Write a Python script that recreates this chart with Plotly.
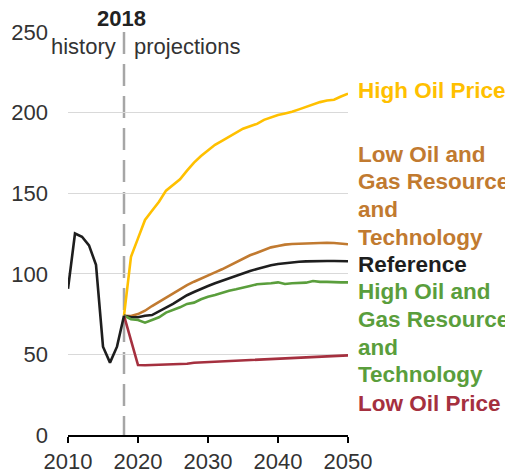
import plotly.graph_objects as go

# ---- data ----
hist_years = list(range(2010, 2019))
hist_values = [90.7, 125.0, 123.0, 117.6, 105.6, 54.8, 44.9, 54.8, 74.0]

proj_years = list(range(2018, 2051))
high_oil_price = [74.0, 110.6, 122.0, 133.4, 139.1, 144.7, 151.6, 155.1, 158.6, 164.0,
                  169.0, 173.1, 176.8, 180.0, 182.5, 185.0, 187.0, 190.0, 191.5, 193.0,
                  195.5, 197.0, 198.5, 199.5, 200.5, 202.0, 203.5, 205.0, 206.5, 207.5,
                  208.0, 210.0, 211.8]
low_oil_gas = [74.0, 73.8, 75.0, 77.1, 80.0, 82.7, 85.4, 87.9, 90.4, 93.0,
               95.1, 97.2, 99.1, 100.9, 102.8, 105.0, 107.1, 109.6, 111.5, 113.1,
               114.8, 116.4, 117.2, 118.1, 118.5, 118.7, 118.9, 119.1, 119.3, 119.3,
               119.1, 118.7, 118.3]
reference = [74.0, 73.0, 73.0, 74.0, 74.4, 76.5, 79.0, 81.3, 84.2, 86.7,
             88.7, 90.8, 92.4, 94.1, 95.7, 97.2, 98.6, 100.3, 101.7, 103.0,
             104.2, 105.3, 106.1, 106.7, 107.1, 107.5, 107.7, 107.9, 107.9, 107.9,
             107.9, 107.9, 107.8]
high_oil_gas = [74.0, 71.8, 71.3, 69.7, 71.3, 73.0, 75.9, 77.5, 79.2, 81.3,
                82.1, 84.2, 85.8, 86.8, 88.3, 89.5, 90.4, 91.2, 92.4, 93.5,
                93.7, 94.1, 94.7, 93.7, 94.1, 94.3, 94.5, 95.5, 95.0, 95.0,
                94.7, 94.7, 94.7]
low_oil_price = [74.0, 59.0, 43.4, 43.3, 43.4, 43.5, 43.7, 43.8, 44.0, 44.2,
                 44.8, 45.0, 45.2, 45.6, 46.0, 46.1, 46.3, 46.5, 46.7, 47.0,
                 47.2, 47.4, 47.6, 47.7, 47.8, 47.9, 48.1, 48.4, 48.6, 48.8,
                 49.0, 49.2, 49.4]

series_names = ["High Oil Price", "Low Oil and Gas Resource and Technology",
                "Reference", "High Oil and Gas Resource and Technology",
                "Low Oil Price"]
label_lines = [["High Oil Price"],
               ["Low Oil and", "Gas Resource", "and", "Technology"],
               ["Reference"],
               ["High Oil and", "Gas Resource", "and", "Technology"],
               ["Low Oil Price"]]
series_values = [high_oil_price, low_oil_gas, reference, high_oil_gas, low_oil_price]
series_colors = ["#FFC000", "#C17A30", "#1E1E1E", "#5A9E3C", "#A5303F"]
label_y = [214.0, 148.5, 105.5, 63.1, 19.3]
LINE_GAP = 27.7

y_ticks = [0, 50, 100, 150, 200, 250]
x_ticks = [2010, 2020, 2030, 2040, 2050]

FONT = "Liberation Sans, Arial, sans-serif"

fig = go.Figure()

for name, vals, col in zip(series_names, series_values, series_colors):
    fig.add_trace(go.Scatter(x=proj_years, y=vals, mode="lines",
                             line=dict(color=col, width=2.6), name=name,
                             showlegend=False, hoverinfo="skip"))

fig.add_trace(go.Scatter(x=hist_years, y=hist_values, mode="lines",
                         line=dict(color="#1E1E1E", width=2.6),
                         showlegend=False, hoverinfo="skip"))

for lines, col, ly in zip(label_lines, series_colors, label_y):
    n = len(lines)
    for i, txt in enumerate(lines):
        fig.add_annotation(x=1, xref="paper", xshift=8, y=ly, yref="y",
                           yshift=((n - 1) / 2 - i) * LINE_GAP,
                           text="<b>" + txt + "</b>", showarrow=False,
                           xanchor="left", yanchor="middle", align="left",
                           font=dict(family=FONT, size=22.5, color=col))

fig.add_shape(type="line", x0=2018, x1=2018, y0=250, y1=0, xref="x", yref="y",
              line=dict(color="#A6A6A6", width=2.5, dash="22px,10px"), layer="below")

fig.add_annotation(x=2017.7, y=1, yref="paper", yshift=14, text="<b>2018</b>",
                   showarrow=False, xanchor="center", yanchor="middle",
                   font=dict(family=FONT, size=22, color="#222222"))
fig.add_annotation(x=2017.14, y=241.3, text="history", showarrow=False,
                   xanchor="right", yanchor="middle",
                   font=dict(family=FONT, size=22, color="#333333"))
fig.add_annotation(x=2019.14, y=241.3, text="projections", showarrow=False,
                   xanchor="left", yanchor="middle",
                   font=dict(family=FONT, size=22, color="#333333"))

fig.update_xaxes(range=[2010, 2050], tickvals=x_ticks, ticks="outside", ticklen=6,
                 tickwidth=1.5, tickcolor="#000000", showline=True,
                 linecolor="#000000", linewidth=2, showgrid=False, zeroline=False,
                 automargin=False,
                 tickfont=dict(family=FONT, size=22, color="#333333"))
fig.update_yaxes(range=[0, 250], tickvals=y_ticks, showgrid=True,
                 gridcolor="#D9D9D9", gridwidth=1, zeroline=False, showline=False,
                 ticks="", ticklabelstandoff=19, automargin=False,
                 tickfont=dict(family=FONT, size=22, color="#333333"))

# page body has an 8px margin, so the figure is 8px smaller and shifted
fig.update_layout(width=505, height=467, margin=dict(l=60, r=165, t=24, b=40),
                  plot_bgcolor="#FFFFFF", paper_bgcolor="#FFFFFF",
                  font=dict(family=FONT))

fig.write_html("out.html")
